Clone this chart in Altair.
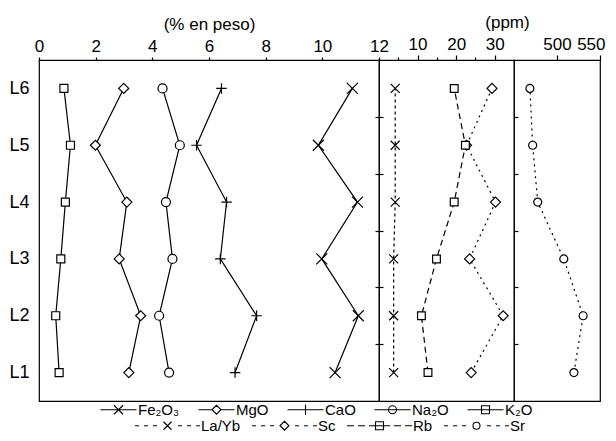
import altair as alt
import pandas as pd

FONT = "Arial"

# ---------------- data ----------------
level_nums = [1, 2, 3, 4, 5, 6]          # L1 .. L6

fe2o3 = [10.45, 11.27, 9.98, 11.24, 9.86, 11.06]
mgo = [3.17, 3.59, 2.83, 3.10, 1.99, 2.99]
cao = [6.92, 7.68, 6.40, 6.62, 5.56, 6.44]
na2o = [4.59, 4.24, 4.71, 4.48, 4.97, 4.36]
k2o = [0.71, 0.59, 0.77, 0.93, 1.11, 0.88]
la_yb = [3.8, 3.8, 3.8, 4.2, 4.2, 4.2]
sc = [23.9, 32.2, 23.5, 30.2, 22.7, 29.3]
rb = [12.7, 11.0, 14.9, 19.5, 22.4, 19.5]
sr = [519.7, 530.4, 507.9, 477.6, 471.7, 468.5]

oxide_names = ["Fe₂O₃", "MgO", "CaO", "Na₂O", "K₂O"]
ppm_names = ["La/Yb", "Sc", "Rb", "Sr"]

pct_ticks = [0, 2, 4, 6, 8, 10, 12]
ppm_ticks = [5, 10, 15, 20, 25, 30]
sr_ticks = [500, 550]
boundary_ticks = [1.5, 2.5, 3.5, 4.5, 5.5]

# ---------------- styles ----------------
X_PATH = "M-1,-1L1,1M-1,1L1,-1"
PLUS_PATH = "M-1,0H1M0,-1V1"

AX = dict(labelFont=FONT, titleFont=FONT, labelColor="black", titleColor="black",
          tickColor="black", tickWidth=1.2, titleFontWeight="normal",
          labelFontSize=17, titleFontSize=17, domain=False, grid=False)


def dashed(segs):
    return "".join(f"M{a},0H{b}" for a, b in segs)


def mirror(segs):
    return segs + [(-b, -a) for a, b in segs]


short_dash = mirror([(-6.5, -5.7), (-4.7, -3.9), (-2.9, -2.1)])
long_dash = mirror([(-6.5, -5.1), (-4.3, -2.9)])

leg_oxide_paths = [
    "M-3.6,0H3.6M-0.9,-0.9L0.9,0.9M-0.9,0.9L0.9,-0.9",
    "M-3.6,0H-0.9M0.9,0H3.6M-0.9,0L0,-0.9L0.9,0L0,0.9Z",
    "M-3.6,0H3.6M0,-1V1",
    "M-3.6,0H3.6M-0.8,0A0.8,0.8,0,1,0,0.8,0A0.8,0.8,0,1,0,-0.8,0Z",
    "M-3.6,0H3.6M-0.8,-0.8H0.8V0.8H-0.8Z",
]
leg_ppm_paths = [
    dashed(short_dash) + "M-0.8,-0.8L0.8,0.8M-0.8,0.8L0.8,-0.8",
    dashed(short_dash) + "M-0.9,0L0,-0.9L0.9,0L0,0.9Z",
    dashed(long_dash) + "M-0.8,-0.8H0.8V0.8H-0.8ZM-2.1,0H2.1",
    dashed(short_dash) + "M-0.7,0A0.7,0.7,0,1,0,0.7,0A0.7,0.7,0,1,0,-0.7,0Z",
]


def frame(name, vals):
    return pd.DataFrame({"series": name, "lvl": level_nums, "value": vals})


def series_layers(df, x_enc, y_enc, shape, size, dash=None):
    base = alt.Chart(df).encode(x=x_enc, y=y_enc)
    lkw = dict(color="black", strokeWidth=1.2)
    if dash:
        lkw["strokeDash"] = dash
    line = base.mark_line(**lkw).encode(order="lvl:Q")
    pts = base.mark_point(shape=shape, size=size, color="black", fill="white",
                          fillOpacity=1, strokeWidth=1.2, opacity=1)
    return [line, pts]


def y_scale():
    return alt.Scale(domain=[0.5, 6.5], nice=False, zero=False)


# ---------------- panel 1 ----------------
x1 = alt.X("value:Q", scale=alt.Scale(domain=[0, 12], nice=False, zero=False),
           axis=alt.Axis(orient="top", values=pct_ticks, title="(% en peso)",
                         tickSize=3, labelPadding=2, titlePadding=4, labelFlush=False, **AX))
y1 = alt.Y("lvl:Q", scale=y_scale(),
           axis=alt.Axis(values=level_nums, labelExpr="'L' + datum.value", ticks=False,
                         title=None, labelPadding=10,
                         **{**AX, "labelFontSize": 18}))

oxide_frames = [frame(n, v) for n, v in zip(oxide_names, [fe2o3, mgo, cao, na2o, k2o])]
p1_layers = []
p1_layers += series_layers(oxide_frames[0], x1, y1, X_PATH, 121)
p1_layers += series_layers(oxide_frames[1], x1, y1, "diamond", 100)
p1_layers += series_layers(oxide_frames[2], x1, y1, PLUS_PATH, 110)
p1_layers += series_layers(oxide_frames[3], x1, y1, "circle", 81)
p1_layers += series_layers(oxide_frames[4], x1, y1, "square", 64)

oxide_all = pd.concat(oxide_frames, ignore_index=True)
leg1 = alt.Chart(oxide_all).mark_point(color="black", opacity=0, strokeWidth=1).encode(
    x=x1, y=y1,
    shape=alt.Shape("series:N",
                    scale=alt.Scale(domain=oxide_names, range=leg_oxide_paths),
                    legend=alt.Legend(orient="none", legendX=72, legendY=342,
                                      direction="horizontal", title=None,
                                      symbolSize=100, symbolStrokeWidth=1.1,
                                      symbolStrokeColor="black", symbolFillColor="white",
                                      symbolOpacity=1, labelFont=FONT, labelFontSize=15,
                                      labelColor="black", labelOffset=12,
                                      columnPadding=16, padding=0)),
)
panel1 = alt.layer(*p1_layers, leg1).properties(width=340, height=341)

# ---------------- panel 2 ----------------
x2 = alt.X("value:Q", scale=alt.Scale(domain=[0, 35], nice=False, zero=False),
           axis=alt.Axis(orient="top", values=ppm_ticks, title="(ppm)",
                         labelExpr="datum.value % 10 === 0 ? datum.label : ''",
                         tickSize={"condition": {"test": "datum.value % 10 === 0", "value": 5},
                                   "value": 3},
                         labelPadding=2, titlePadding=4, labelFlush=False,
                         titleX=128, titleAlign="center", **AX))
y2 = alt.Y("lvl:Q", scale=y_scale(),
           axis=alt.Axis(values=boundary_ticks, labels=False, tickSize=8, offset=-4,
                         title=None, **AX))

ppm_frames = [frame(n, v) for n, v in zip(ppm_names[:3], [la_yb, sc, rb])]
p2_layers = []
p2_layers += series_layers(ppm_frames[0], x2, y2, X_PATH, 81, [3, 3])
p2_layers += series_layers(ppm_frames[1], x2, y2, "diamond", 100, [2, 4])
p2_layers += series_layers(ppm_frames[2], x2, y2, "square", 60, [6, 4])

sr_frame = frame("Sr", sr)
ppm_all = pd.concat(ppm_frames + [sr_frame], ignore_index=True)
leg2 = alt.Chart(ppm_all).transform_filter("datum.series != 'Sr'").mark_point(
    color="black", opacity=0, strokeWidth=1).encode(
    x=x2, y=y2,
    shape=alt.Shape("series:N",
                    scale=alt.Scale(domain=ppm_names, range=leg_ppm_paths),
                    legend=alt.Legend(orient="none", legendX=-219, legendY=358,
                                      direction="horizontal", title=None,
                                      symbolSize=100, symbolStrokeWidth=1.1,
                                      symbolStrokeColor="black", symbolFillColor="white",
                                      symbolOpacity=1, labelFont=FONT, labelFontSize=15,
                                      labelColor="black", labelOffset=26,
                                      columnPadding=8, padding=0)),
)
panel2 = alt.layer(*p2_layers, leg2).properties(width=135, height=341)

# ---------------- panel 3 ----------------
x3 = alt.X("value:Q", scale=alt.Scale(domain=[450, 550], nice=False, zero=False),
           axis=alt.Axis(orient="top", values=sr_ticks, title=None, tickSize=5,
                         labelPadding=2, labelFlush=1, labelFlushOffset=5, **AX))
y3 = alt.Y("lvl:Q", scale=y_scale(),
           axis=alt.Axis(values=boundary_ticks, labels=False, tickSize=4, offset=-4,
                         title=None, **AX))
p3_layers = series_layers(sr_frame, x3, y3, "circle", 64, [2, 4])
panel3 = alt.layer(*p3_layers).properties(width=86, height=341)

chart = (
    alt.hconcat(panel1, panel2, panel3, spacing=0, bounds="flush")
    .resolve_scale(shape="independent")
    .properties(padding={"left": 0, "top": 4, "right": 2, "bottom": 0},
                background="white")
    .configure_view(stroke="black", strokeWidth=1.2)
)

chart.save("out.html", embed_options={"renderer": "svg", "actions": False})
